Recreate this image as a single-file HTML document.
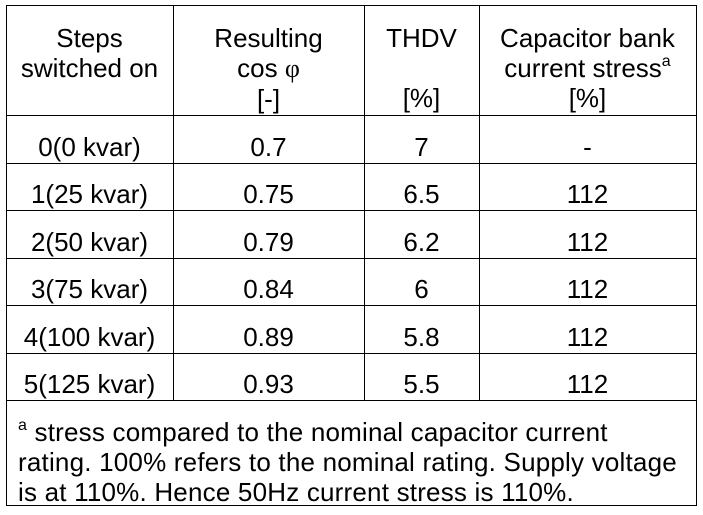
<!DOCTYPE html>
<html><head><style>
body{margin:0;width:703px;height:515px;background:#fff;position:relative;font-family:"Liberation Sans",sans-serif;font-size:26px;color:#000;overflow:hidden}
.l{position:absolute;background:#000}
.t{position:absolute;text-align:center;line-height:30px;white-space:nowrap}
sup{font-size:16px;vertical-align:top;position:relative;top:-6px}
</style></head><body>
<div class="l" style="left:6px;top:5px;width:691px;height:1px"></div>
<div class="l" style="left:6px;top:505px;width:691px;height:1px"></div>
<div class="l" style="left:6px;top:5px;width:1px;height:501px"></div>
<div class="l" style="left:696px;top:5px;width:1px;height:501px"></div>
<div class="l" style="left:173px;top:5px;width:1px;height:396px"></div>
<div class="l" style="left:364px;top:5px;width:1px;height:396px"></div>
<div class="l" style="left:479px;top:5px;width:1px;height:396px"></div>
<div class="l" style="left:6px;top:115px;width:691px;height:1px"></div>
<div class="l" style="left:6px;top:163px;width:691px;height:1px"></div>
<div class="l" style="left:6px;top:210px;width:691px;height:1px"></div>
<div class="l" style="left:6px;top:258px;width:691px;height:1px"></div>
<div class="l" style="left:6px;top:305px;width:691px;height:1px"></div>
<div class="l" style="left:6px;top:353px;width:691px;height:1px"></div>
<div class="l" style="left:6px;top:400px;width:691px;height:1px"></div>

<div class="t" style="left:6px;width:167px;top:23px">Steps<br>switched on</div>
<div class="t" style="left:173px;width:191px;top:23px">Resulting<br>cos <span style="font-family:'Liberation Serif',serif">φ</span><br>[-]</div>
<div class="t" style="left:364px;width:115px;top:23px">THDV<br>&nbsp;<br>[%]</div>
<div class="t" style="left:479px;width:217px;top:23px">Capacitor bank<br>current stress<sup>a</sup><br>[%]</div>

<div class="t" style="left:6px;width:167px;top:132px">0(0 kvar)</div>
<div class="t" style="left:173px;width:191px;top:132px">0.7</div>
<div class="t" style="left:364px;width:115px;top:132px">7</div>
<div class="t" style="left:479px;width:217px;top:132px">-</div>

<div class="t" style="left:6px;width:167px;top:179px">1(25 kvar)</div>
<div class="t" style="left:173px;width:191px;top:179px">0.75</div>
<div class="t" style="left:364px;width:115px;top:179px">6.5</div>
<div class="t" style="left:479px;width:217px;top:179px">112</div>

<div class="t" style="left:6px;width:167px;top:227px">2(50 kvar)</div>
<div class="t" style="left:173px;width:191px;top:227px">0.79</div>
<div class="t" style="left:364px;width:115px;top:227px">6.2</div>
<div class="t" style="left:479px;width:217px;top:227px">112</div>

<div class="t" style="left:6px;width:167px;top:274px">3(75 kvar)</div>
<div class="t" style="left:173px;width:191px;top:274px">0.84</div>
<div class="t" style="left:364px;width:115px;top:274px">6</div>
<div class="t" style="left:479px;width:217px;top:274px">112</div>

<div class="t" style="left:6px;width:167px;top:322px">4(100 kvar)</div>
<div class="t" style="left:173px;width:191px;top:322px">0.89</div>
<div class="t" style="left:364px;width:115px;top:322px">5.8</div>
<div class="t" style="left:479px;width:217px;top:322px">112</div>

<div class="t" style="left:6px;width:167px;top:369px">5(125 kvar)</div>
<div class="t" style="left:173px;width:191px;top:369px">0.93</div>
<div class="t" style="left:364px;width:115px;top:369px">5.5</div>
<div class="t" style="left:479px;width:217px;top:369px">112</div>

<div class="t" style="left:18px;top:417px;text-align:left;letter-spacing:0.2px"><sup>a</sup> stress compared to the nominal capacitor current<br>rating. 100% refers to the nominal rating. Supply voltage<br>is at 110%. Hence 50Hz current stress is 110%.</div>
</body></html>
